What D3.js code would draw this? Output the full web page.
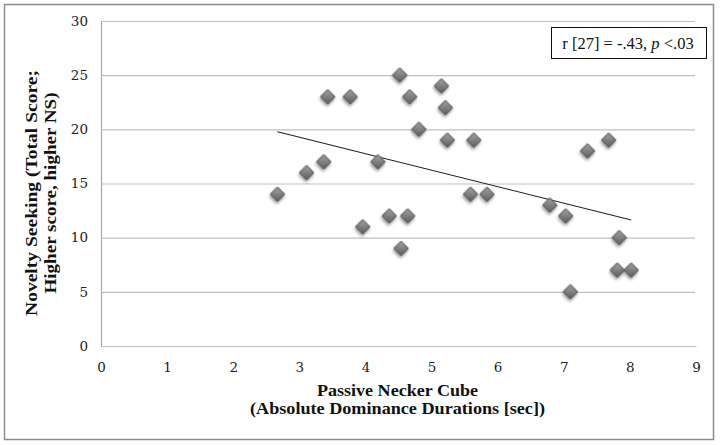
<!DOCTYPE html>
<html>
<head>
<meta charset="utf-8">
<script src="https://cdnjs.cloudflare.com/ajax/libs/d3/7.8.5/d3.min.js"></script>
<style>
  html, body { margin: 0; padding: 0; background: #fff; }
  svg { display: block; }
</style>
</head>
<body>
<svg id="chart" width="721" height="445"></svg>
<script>
// ---- data ----
const dominanceSec = [2.67, 3.11, 3.37, 3.43, 3.77, 3.96, 4.19, 4.36, 4.52, 4.54, 4.64, 4.67, 4.81, 5.15, 5.21, 5.24, 5.59, 5.64, 5.84, 6.79, 7.03, 7.10, 7.36, 7.68, 7.81, 7.84, 8.02];
const noveltyScore = [14, 16, 17, 23, 23, 11, 17, 12, 25, 9, 12, 23, 20, 24, 22, 19, 14, 19, 14, 13, 12, 5, 18, 19, 7, 10, 7];
const trendX = [2.67, 8.02];
const trendY = [19.78, 11.63];
const xTicks = [0, 1, 2, 3, 4, 5, 6, 7, 8, 9];
const yTicks = [0, 5, 10, 15, 20, 25, 30];
const xTitleLines = ["Passive Necker Cube", "(Absolute Dominance Durations [sec])"];
const yTitleLines = ["Novelty Seeking (Total Score;", "Higher score, higher NS)"];
const statText = { pre: "r [27] = -.43, ", ital: "p", post: " <.03" };

(function () {
const svg = d3.select("#chart");

// outer frame
svg.append("rect").attr("x", 4.5).attr("y", 4.5).attr("width", 709).attr("height", 435)
  .attr("fill", "#fff").attr("stroke", "#8c8c8c").attr("stroke-width", 1.5);

const mLeft = 101, mRight = 696, mTop = 21, mBottom = 346;
const x = d3.scaleLinear().domain([0, 9]).range([mLeft, mRight]);
const y = d3.scaleLinear().domain([0, 30]).range([mBottom, mTop]);

const defs = svg.append("defs");
const grad = defs.append("linearGradient").attr("id", "dg")
  .attr("x1", "0").attr("y1", "0").attr("x2", "1").attr("y2", "1");
grad.append("stop").attr("offset", "0%").attr("stop-color", "#a4a4a4");
grad.append("stop").attr("offset", "55%").attr("stop-color", "#7c7c7c");
grad.append("stop").attr("offset", "100%").attr("stop-color", "#5e5e5e");
const f = defs.append("filter").attr("id", "sh").attr("x", "-50%").attr("y", "-50%").attr("width", "200%").attr("height", "200%");
f.append("feDropShadow").attr("dx", 1).attr("dy", 2).attr("stdDeviation", 1.4)
  .attr("flood-color", "#000").attr("flood-opacity", 0.4);

// y axis with gridlines
const yAxis = d3.axisLeft(y).tickValues(yTicks).tickSize(-(mRight - mLeft - 1)).tickSizeOuter(0).tickPadding(13);
const gy = svg.append("g").attr("transform", `translate(${mLeft},0)`).call(yAxis);
gy.select(".domain").attr("stroke", "#a6a6a6").attr("stroke-width", 1.2);
gy.selectAll(".tick line").attr("stroke", "#bfbfbf").attr("stroke-width", 1.2);
gy.selectAll(".tick text").attr("font-family", "DejaVu Serif").attr("font-size", 13.5).attr("fill", "#222");

// x axis
const xAxis = d3.axisBottom(x).tickValues(xTicks).tickSize(0).tickPadding(16).tickFormat(d3.format("d"));
const gx = svg.append("g").attr("transform", `translate(0,${mBottom})`).call(xAxis);
gx.select(".domain").attr("stroke", "#bfbfbf").attr("stroke-width", 1.2);
gx.selectAll(".tick text").attr("font-family", "DejaVu Serif").attr("font-size", 13.5).attr("fill", "#222");

// trend line
const pts = trendX.map((v, i) => [x(v), y(trendY[i])]);
svg.append("path").attr("d", d3.line()(pts)).attr("stroke", "#222").attr("stroke-width", 1.1).attr("fill", "none");

// markers
const sym = d3.symbol().type(d3.symbolSquare).size(104);
svg.append("g").selectAll("path").data(dominanceSec.map((v, i) => [v, noveltyScore[i]]))
  .join("path")
  .attr("d", sym)
  .attr("transform", d => `translate(${x(d[0])},${y(d[1])}) rotate(45)`)
  .attr("fill", "url(#dg)")
  .attr("stroke", "#555")
  .attr("stroke-width", 0.9)
  .attr("filter", "url(#sh)");

// x title
const xLens = [161, 295];
svg.append("g").selectAll("text").data(xTitleLines).join("text")
  .attr("x", (mLeft + mRight) / 2 - 1)
  .attr("y", (d, i) => 396 + i * 18)
  .attr("text-anchor", "middle")
  .attr("font-family", "Liberation Serif").attr("font-weight", "bold").attr("font-size", 17)
  .attr("fill", "#111")
  .attr("textLength", (d, i) => xLens[i]).attr("lengthAdjust", "spacingAndGlyphs")
  .text(d => d);

// y title
const yLens = [246, 201];
svg.append("g").selectAll("text").data(yTitleLines).join("text")
  .attr("transform", (d, i) => `translate(${37 + i * 19},193) rotate(-90)`)
  .attr("text-anchor", "middle")
  .attr("font-family", "Liberation Serif").attr("font-weight", "bold").attr("font-size", 17.5)
  .attr("fill", "#111")
  .attr("textLength", (d, i) => yLens[i]).attr("lengthAdjust", "spacingAndGlyphs")
  .text(d => d);

// stat box
svg.append("rect").attr("x", 551.5).attr("y", 27.5).attr("width", 155).attr("height", 31)
  .attr("fill", "#fff").attr("stroke", "#111").attr("stroke-width", 1);
const st = svg.append("text").attr("x", 628).attr("y", 49).attr("text-anchor", "middle")
  .attr("font-family", "Liberation Serif").attr("font-size", 16.5).attr("fill", "#111");
st.append("tspan").text(statText.pre);
st.append("tspan").attr("font-style", "italic").text(statText.ital);
st.append("tspan").text(statText.post);
})();
</script>
</body>
</html>
